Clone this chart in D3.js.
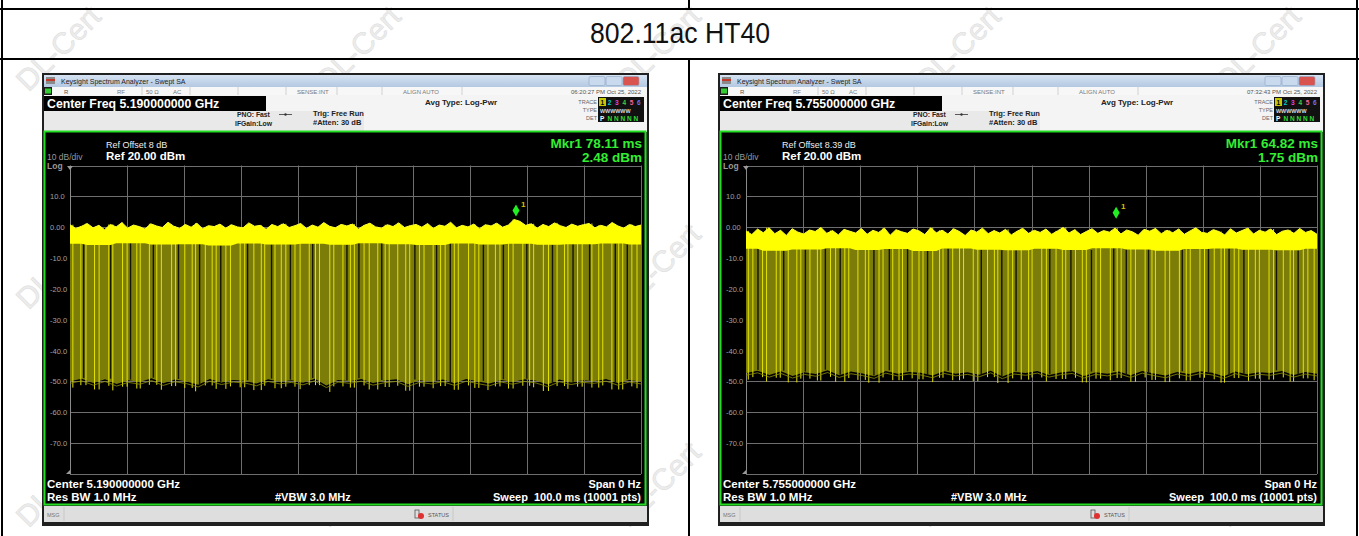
<!DOCTYPE html>
<html><head><meta charset="utf-8">
<script src="https://cdn.jsdelivr.net/npm/d3@7"></script>
<style>
body{margin:0;background:#fff}
svg{display:block}
text{font-family:"Liberation Sans",Arial,Helvetica,sans-serif}
</style>
</head><body>
<svg id="c" width="1359" height="536"></svg>
<script>
// ---------------- data ----------------
const sectionTitle = "802.11ac HT40";
const centerFreqs = ["5.190000000 GHz", "5.755000000 GHz"];
const refOffsets = ["8 dB", "8.39 dB"];
const timestamps = ["06:20:27 PM Oct 25, 2022", "07:32:43 PM Oct 25, 2022"];
const markerTimesMs = [78.11, 64.82];
const markerLevelsDbm = [2.48, 1.75];
const sweepTimeMs = 100;
const refLevelDbm = 20;
const bottomLevelDbm = -80;
const yTickValues = [10, 0, -10, -20, -30, -40, -50, -60, -70];
const yTickLabels = ["10.0", "0.00", "-10.0", "-20.0", "-30.0", "-40.0", "-50.0", "-60.0", "-70.0"];
const yGridValues = [20, 10, 0, -10, -20, -30, -40, -50, -60, -70, -80];
const xGridMs = [0, 10, 20, 30, 40, 50, 60, 70, 80, 90, 100];

// left trace (5.190 GHz): peak level per 1 ms, dense-band bottom per 5 ms, floor per 2 ms
const peakL = [0.8,-0.4,0.3,1.2,-0.2,0.6,-0.8,0.9,0.1,1.5,
  -0.3,0.7,0.2,-0.6,1.1,0.4,-0.1,1.6,0.3,-0.4,
  0.9,0.0,1.3,-0.5,0.5,0.2,1.0,-0.3,0.8,0.1,
  -0.2,1.4,0.3,0.6,-0.7,0.9,0.2,1.1,-0.1,0.5,
  1.2,-0.4,0.7,0.0,1.5,0.3,-0.2,0.9,0.4,1.0,
  -0.6,0.6,1.3,0.1,-0.3,0.8,0.2,1.4,-0.1,0.5,
  0.9,0.0,1.2,-0.4,0.7,0.3,1.6,-0.2,0.6,0.1,
  1.0,-0.5,0.8,0.4,1.3,0.0,0.7,2.5,1.9,0.6,
  1.1,-0.3,0.9,0.2,1.4,0.5,-0.1,1.0,0.3,0.8,
  1.2,-0.2,0.6,0.1,1.5,0.4,-0.3,0.9,0.2,0.7];
const bandLowL = [-5.4,-5.8,-5.2,-5.6,-5.5,-5.9,-5.3,-5.6,-5.4,-5.7,-5.2,-5.5,-5.8,-5.3,-5.6,-5.4,-5.7,-5.5,-5.3,-5.6];
const floorL = [-51.2,-50.4,-51.8,-50.6,-52.1,-50.9,-51.5,-50.3,-51.9,-50.7,
  -51.3,-52.4,-50.5,-51.6,-50.8,-51.1,-52.0,-50.6,-51.4,-50.9,
  -51.7,-50.4,-52.6,-50.8,-51.2,-50.5,-51.8,-51.0,-50.6,-52.2,
  -50.9,-51.4,-50.7,-51.9,-50.5,-51.3,-52.0,-50.8,-51.5,-50.6,
  -51.1,-52.3,-50.7,-51.6,-50.9,-51.2,-50.5,-51.8,-50.8,-51.4];
const dipsL = [0.5,1.9,2.8,4.3,5.1,6.8,7.5,9.2,10.0,11.7,12.3,13.9,15.2,16.0,17.8,18.5,20.1,21.4,22.0,23.7,
  24.9,25.6,27.3,28.1,29.8,30.6,32.2,33.5,34.1,35.9,37.0,37.8,39.4,40.3,41.9,43.0,43.7,45.5,46.2,47.8,
  49.1,49.8,51.5,52.4,53.9,55.2,55.9,57.4,58.8,59.5,61.2,62.0,63.6,64.9,65.7,67.3,68.0,69.8,70.9,71.6,
  73.2,74.5,75.3,76.8,77.6,79.3,80.5,81.2,82.9,83.8,85.3,86.6,87.2,88.9,89.7,91.4,92.6,93.3,94.9,96.1,
  96.8,98.4,99.3];
const gapsL = [2.4,7.1,10.6,14.6,19.0,22.7,26.4,31.1,35.3,38.6,42.5,48.5,50.6,54.6,60.4,64.2,66.6,72.4,75.9,80.0,84.5,88.1,91.0,95.5,97.6];

// right trace (5.755 GHz)
const peakR = [-1.2,-2.4,-0.6,-1.8,-0.2,-2.1,-1.0,-2.7,-0.5,-1.6,
  -2.2,-0.9,-1.4,-0.1,-2.0,-1.1,-2.5,-0.7,-1.3,-1.9,
  -0.4,-2.3,-1.0,-1.7,-0.3,-2.6,-0.8,-1.5,-2.0,-0.6,
  -1.2,-2.4,-0.2,-1.8,-1.0,-2.2,-0.5,-1.4,-2.7,-0.9,
  -1.6,-0.3,-2.1,-1.1,-1.9,-0.7,-2.5,-1.3,-0.4,-2.0,
  -1.0,-1.7,-0.6,-2.3,-1.2,-0.1,-1.9,-0.8,-2.4,-1.4,
  -0.5,-2.0,-1.1,-1.6,-0.3,-2.2,-0.9,-1.5,-2.6,-0.7,
  -1.3,-0.4,-2.1,-1.0,-1.8,-0.6,-2.3,-1.2,-0.2,-1.7,
  -2.0,-0.8,-1.4,-2.5,-0.5,-1.9,-1.1,-0.3,-2.2,-1.0,
  -1.6,-0.6,-2.4,-1.3,-0.9,-2.0,-0.4,-1.7,-1.1,-2.3];
const bandLowR = [-7.0,-7.6,-7.2,-6.8,-7.4,-7.1,-7.7,-6.9,-7.3,-7.5,-7.0,-7.4,-6.8,-7.2,-7.6,-7.1,-6.9,-7.3,-7.5,-7.0];
const floorR = [-48.6,-47.8,-49.2,-48.0,-49.5,-48.3,-48.9,-47.7,-49.3,-48.1,
  -48.7,-49.6,-47.9,-48.8,-48.2,-48.5,-49.4,-48.0,-48.8,-48.3,
  -49.1,-47.8,-49.7,-48.2,-48.6,-47.9,-49.2,-48.4,-48.0,-49.5,
  -48.3,-48.8,-48.1,-49.3,-47.9,-48.7,-49.4,-48.2,-48.9,-48.0,
  -48.5,-49.6,-48.1,-49.0,-48.3,-48.6,-47.9,-49.2,-48.2,-48.8];
const dipsR = [0.4,1.2,2.9,3.6,5.3,6.0,7.4,8.9,9.6,11.2,12.5,13.1,14.8,15.7,17.3,18.0,19.6,20.9,21.5,23.3,
  24.0,25.7,26.8,27.4,29.1,30.3,31.0,32.7,33.9,34.5,36.2,37.4,38.1,39.8,40.6,42.3,43.5,44.1,45.9,46.7,
  48.2,49.5,50.1,51.8,52.6,54.3,55.4,56.0,57.7,58.9,59.6,61.3,62.1,63.8,65.0,65.7,67.4,68.2,69.9,71.1,
  71.7,73.4,74.2,75.9,77.1,77.8,79.5,80.3,82.0,83.2,83.8,85.5,86.3,88.0,89.2,89.9,91.6,92.4,94.1,95.3,
  95.9,97.6,98.4,99.5];
const gapsR = [2.1,6.6,10.4,13.9,16.5,22.4,25.1,28.3,31.8,35.4,41.2,44.8,47.3,53.2,56.9,60.5,64.4,66.6,70.5,76.4,81.0,84.6,87.2,92.9,96.7];

const peaks = [peakL, peakR];
const bandLows = [bandLowL, bandLowR];
const floors = [floorL, floorR];
const dips = [dipsL, dipsR];
const gaps = [gapsL, gapsR];

// ---------------- drawing ----------------
const svg = d3.select("#c");
const W = 1359, H = 536;
const defs = svg.append("defs");

// watermark layer (kept fully inside the canvas)
const wm = svg.append("g");
for (let j = 0; j < 5; j++) {
  for (let i = 0; i < 5; i++) {
    const cx = 60 + i * 300 + (j % 2) * 150;
    const cy = 50 + j * 109;
    if (cx > 1300) continue;
    wm.append("text").attr("transform", `translate(${cx},${cy}) rotate(-45)`)
      .attr("text-anchor", "middle").attr("dominant-baseline", "middle")
      .attr("font-size", 30).attr("fill", "#ececec").attr("stroke", "#dcdcdc").attr("stroke-width", 0.5)
      .text("DL-Cert");
  }
}

// table lines
const tbl = svg.append("g").attr("stroke", "#000").attr("stroke-width", 2);
tbl.append("line").attr("x1", 0).attr("x2", W).attr("y1", 9).attr("y2", 9);
tbl.append("line").attr("x1", 0).attr("x2", W).attr("y1", 59).attr("y2", 59);
tbl.append("line").attr("x1", 2).attr("x2", 2).attr("y1", 0).attr("y2", H);
tbl.append("line").attr("x1", 1357).attr("x2", 1357).attr("y1", 0).attr("y2", H);
tbl.append("line").attr("x1", 689).attr("x2", 689).attr("y1", 0).attr("y2", 9);
tbl.append("line").attr("x1", 689).attr("x2", 689).attr("y1", 59).attr("y2", H);

svg.append("text").attr("x", 680).attr("y", 43).attr("text-anchor", "middle")
  .attr("font-size", 29).attr("fill", "#111").attr("textLength", 180).attr("lengthAdjust", "spacingAndGlyphs")
  .text(sectionTitle);

function txt(g, x, y, s, size, fill, opts = {}) {
  const t = g.append("text").attr("x", x).attr("y", y).attr("font-size", size).attr("fill", fill).text(s);
  if (opts.bold) t.attr("font-weight", "bold");
  if (opts.anchor) t.attr("text-anchor", opts.anchor);
  return t;
}

function drawPanel(k, ox) {
  const g = svg.append("g").attr("transform", `translate(${ox},0)`);
  // outer frame
  g.append("rect").attr("x", 42).attr("y", 73).attr("width", 607).attr("height", 453).attr("fill", "#202020");
  // title bar
  const grad = defs.append("linearGradient").attr("id", "tb" + k).attr("x1", 0).attr("y1", 0).attr("x2", 0).attr("y2", 1);
  grad.append("stop").attr("offset", 0).attr("stop-color", "#d6e3f3");
  grad.append("stop").attr("offset", 1).attr("stop-color", "#b3c8e2");
  g.append("rect").attr("x", 44).attr("y", 75).attr("width", 603).attr("height", 12).attr("fill", `url(#tb${k})`);
  g.append("rect").attr("x", 46).attr("y", 77).attr("width", 9).attr("height", 7).attr("fill", "#8a8a8a");
  g.append("rect").attr("x", 46).attr("y", 79).attr("width", 9).attr("height", 2).attr("fill", "#c0392b");
  txt(g, 61, 84, "Keysight Spectrum Analyzer - Swept SA", 7, "#222");
  [[589, "#c9d9ee"], [606, "#c9d9ee"], [623, "#d9534f"]].forEach(([bx, c]) => {
    g.append("rect").attr("x", bx).attr("y", 76.5).attr("width", 16).attr("height", 9).attr("rx", 1.5)
      .attr("fill", c).attr("stroke", "#8ea6c4").attr("stroke-width", 0.6);
  });
  // status row
  g.append("rect").attr("x", 44).attr("y", 87).attr("width", 603).attr("height", 8).attr("fill", "#f7f7f7");
  g.append("rect").attr("x", 44).attr("y", 87).attr("width", 8).attr("height", 8).attr("fill", "#1b1b1b");
  g.append("rect").attr("x", 45).attr("y", 88.5).attr("width", 6).attr("height", 5).attr("fill", "#33cc33");
  [142, 190, 238, 286, 337, 382, 462].forEach(sx => {
    g.append("line").attr("x1", sx).attr("x2", sx).attr("y1", 87).attr("y2", 95).attr("stroke", "#b8b8b8").attr("stroke-width", 0.6);
  });
  txt(g, 64, 93.5, "R", 6, "#555");
  txt(g, 117, 93.5, "RF", 6, "#777");
  txt(g, 146, 93.5, "50 Ω", 6, "#777");
  txt(g, 173, 93.5, "AC", 6, "#777");
  txt(g, 297, 93.5, "SENSE:INT", 6, "#777");
  txt(g, 403, 93.5, "ALIGN AUTO", 6, "#777");
  txt(g, 641, 93.5, timestamps[k], 6, "#555", { anchor: "end" });
  // header area
  g.append("rect").attr("x", 44).attr("y", 95).attr("width", 603).attr("height", 37).attr("fill", "#f4f4f4");
  g.append("rect").attr("x", 44).attr("y", 111).attr("width", 320).attr("height", 20).attr("fill", "#e9e9e9");
  g.append("rect").attr("x", 44).attr("y", 96).attr("width", 222).attr("height", 15).attr("fill", "#000");
  txt(g, 47, 108, "Center Freq " + centerFreqs[k], 12.3, "#fff", { bold: true });
  txt(g, 237, 117, "PNO: Fast", 6.8, "#222", { bold: true });
  txt(g, 235, 126, "IFGain:Low", 6.8, "#222", { bold: true });
  g.append("line").attr("x1", 279).attr("x2", 292).attr("y1", 114.5).attr("y2", 114.5).attr("stroke", "#333").attr("stroke-width", 0.8);
  g.append("circle").attr("cx", 285.5).attr("cy", 114.5).attr("r", 1.2).attr("fill", "#333");
  txt(g, 313, 116, "Trig: Free Run", 7.5, "#222", { bold: true });
  txt(g, 313, 125, "#Atten: 30 dB", 7.5, "#222", { bold: true });
  txt(g, 425, 105, "Avg Type: Log-Pwr", 8, "#222", { bold: true });
  txt(g, 597, 104, "TRACE", 5.5, "#666", { anchor: "end" });
  txt(g, 597, 112, "TYPE", 5.5, "#666", { anchor: "end" });
  txt(g, 597, 120, "DET", 5.5, "#666", { anchor: "end" });
  g.append("rect").attr("x", 598).attr("y", 97).attr("width", 46).attr("height", 25).attr("fill", "#111");
  g.append("rect").attr("x", 599).attr("y", 98).attr("width", 7).attr("height", 8).attr("fill", "#c8c800");
  const trColors = ["#000", "#00d0d0", "#e040e0", "#40d040", "#ff6090", "#7070ff"];
  trColors.forEach((c, i) => txt(g, 600.5 + i * 7.3, 105, String(i + 1), 6.5, c, { bold: true }));
  txt(g, 600, 113, "WWWWWW", 5.4, "#ddd", { bold: true });
  txt(g, 600, 121, "P", 6.5, "#fff", { bold: true });
  txt(g, 607.5, 121, "N N N N N", 6.5, "#33dd33", { bold: true });

  // display area
  g.append("rect").attr("x", 44.5).attr("y", 131.5).attr("width", 601).attr("height", 373).attr("fill", "#000")
    .attr("stroke", "#22dd22").attr("stroke-width", 2);
  txt(g, 106, 148, "Ref Offset " + refOffsets[k], 9, "#eee");
  txt(g, 106, 160, "Ref " + refLevelDbm.toFixed(2) + " dBm", 11.5, "#fff", { bold: true });
  txt(g, 47, 160, "10 dB/div", 8.5, "#999");
  txt(g, 47, 168.5, "Log", 8.5, "#999", { bold: true });
  txt(g, 642, 148, "Mkr1 " + markerTimesMs[k].toFixed(2) + " ms", 13.5, "#33ee33", { bold: true, anchor: "end" });
  txt(g, 642, 161.5, markerLevelsDbm[k].toFixed(2) + " dBm", 13.5, "#33ee33", { bold: true, anchor: "end" });

  // scales (panel-local coordinates)
  const x = d3.scaleLinear().domain([0, sweepTimeMs]).range([70, 641]);
  const y = d3.scaleLinear().domain([bottomLevelDbm, refLevelDbm]).range([474, 165.5]);

  // grid
  const grid = g.append("g");
  grid.selectAll("line.h").data(yGridValues).join("line").attr("class", "h")
    .attr("x1", 70).attr("x2", 641).attr("y1", d => Math.round(y(d)) + 0.5).attr("y2", d => Math.round(y(d)) + 0.5)
    .attr("stroke", "#6e6e6e").attr("stroke-width", 1);
  grid.selectAll("line.v").data(xGridMs).join("line").attr("class", "v")
    .attr("y1", y(refLevelDbm)).attr("y2", y(bottomLevelDbm)).attr("x1", d => Math.round(x(d)) + 0.5).attr("x2", d => Math.round(x(d)) + 0.5)
    .attr("stroke", d => d === 0 ? "#8a8a8a" : "#6e6e6e").attr("stroke-width", 1);

  // y axis labels via d3 axis
  const ax = g.append("g").attr("transform", "translate(70,0)")
    .call(d3.axisLeft(y).tickValues(yTickValues).tickFormat((d, i) => yTickLabels[i]).tickSize(0));
  ax.select(".domain").remove();
  ax.selectAll("text").attr("text-anchor", "start").attr("x", -20).attr("fill", "#a0a0a0")
    .attr("font-size", 7.5).attr("font-family", "Liberation Sans, Arial, sans-serif");
  g.append("path").attr("d", "M67,166 L73,166 L70,170 Z").attr("fill", "#999");
  g.append("path").attr("d", "M70,470 L70,474 L66,474 Z").attr("fill", "#999");

  // trace
  const clipId = "clip" + k;
  defs.append("clipPath").attr("id", clipId).append("rect")
    .attr("x", 70).attr("y", 150).attr("width", 572).attr("height", 330);
  const tr = g.append("g").attr("clip-path", `url(#${clipId})`);
  const pk = peaks[k], bl = bandLows[k], fl = floors[k];
  const at = (arr, t) => arr[Math.max(0, Math.min(arr.length - 1, Math.round(t / sweepTimeMs * (arr.length - 1))))];
  const tOf = (arr, i) => i * sweepTimeMs / (arr.length - 1);

  // olive body from band down to the floor
  tr.append("path").datum(fl)
    .attr("d", d3.area().x((d, i) => x(tOf(fl, i))).y0(d => y(d + 1.3)).y1(d => y(-4)))
    .attr("fill", "#7c7c08");
  // dark stripes
  tr.selectAll("line.gap").data(gaps[k]).join("line").attr("class", "gap")
    .attr("x1", d => x(d)).attr("x2", d => x(d))
    .attr("y1", d => y(at(bl, d))).attr("y2", d => y(at(fl, d) + 1.5))
    .attr("stroke", "#141400").attr("stroke-width", 1.4);
  // bright full-depth lines
  tr.selectAll("line.dip").data(dips[k]).join("line").attr("class", "dip")
    .attr("x1", d => x(d)).attr("x2", d => x(d))
    .attr("y1", d => y(at(pk, d))).attr("y2", d => y(at(fl, d) - 0.8))
    .attr("stroke", "#e4e400").attr("stroke-width", 1);
  // floor edge (subtle)
  tr.append("path").datum(fl)
    .attr("d", d3.line().x((d, i) => x(tOf(fl, i))).y(d => y(d + 0.6)))
    .attr("fill", "none").attr("stroke", "#8f8f00").attr("stroke-width", 0.8);
  // dense bright band
  tr.append("path").datum(pk)
    .attr("d", d3.area().x((d, i) => x(tOf(pk, i))).y1(d => y(d)).y0((d, i) => y(at(bl, tOf(pk, i)))))
    .attr("fill", "#ffff00");
  tr.append("path").datum(pk)
    .attr("d", d3.line().x((d, i) => x(tOf(pk, i))).y(d => y(d)))
    .attr("fill", "none").attr("stroke", "#ffff30").attr("stroke-width", 1);

  // marker
  const mx = x(markerTimesMs[k]), my = y(markerLevelsDbm[k]);
  g.append("path").attr("d", `M${mx},${my - 3} L${mx + 3.5},${my - 9} L${mx},${my - 15} L${mx - 3.5},${my - 9} Z`).attr("fill", "#22ee22");
  txt(g, mx + 5, my - 13, "1", 8, "#d4c400", { bold: true });

  // bottom annotations
  txt(g, 47, 488, "Center " + centerFreqs[k], 11.5, "#fff", { bold: true });
  txt(g, 47, 500.5, "Res BW 1.0 MHz", 11.5, "#fff", { bold: true });
  txt(g, 275, 500.5, "#VBW 3.0 MHz", 11, "#fff", { bold: true });
  txt(g, 641, 488, "Span 0 Hz", 11, "#fff", { bold: true, anchor: "end" });
  txt(g, 641, 500.5, "Sweep\u00a0\u00a0100.0 ms (10001 pts)", 11, "#fff", { bold: true, anchor: "end" });

  // message bar
  g.append("rect").attr("x", 44).attr("y", 506).attr("width", 603).attr("height", 16).attr("fill", "#dedede");
  g.append("line").attr("x1", 64).attr("x2", 64).attr("y1", 507).attr("y2", 521).attr("stroke", "#bbb").attr("stroke-width", 0.6);
  g.append("line").attr("x1", 453).attr("x2", 453).attr("y1", 507).attr("y2", 521).attr("stroke", "#bbb").attr("stroke-width", 0.6);
  txt(g, 47, 517, "MSG", 5.5, "#777");
  g.append("rect").attr("x", 415).attr("y", 510).attr("width", 4).attr("height", 8).attr("fill", "none").attr("stroke", "#555").attr("stroke-width", 0.8);
  g.append("circle").attr("cx", 421).attr("cy", 516).attr("r", 3).attr("fill", "#e03030");
  txt(g, 428, 517, "STATUS", 5.5, "#555");
}

drawPanel(0, 0);
drawPanel(1, 676);
</script>
</body></html>
